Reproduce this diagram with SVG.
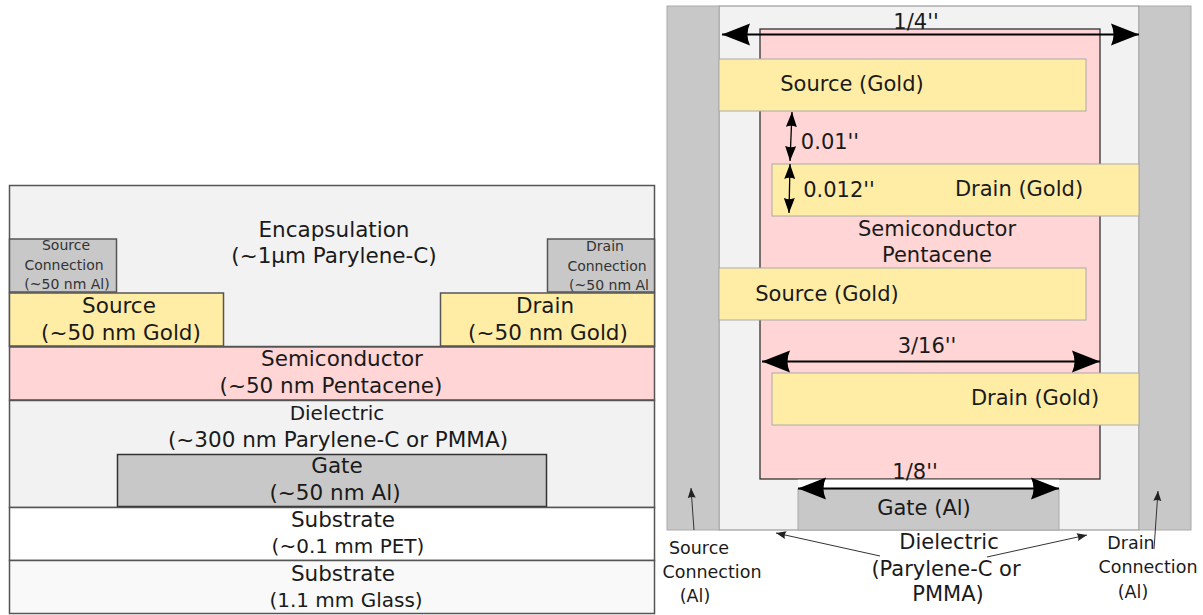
<svg xmlns="http://www.w3.org/2000/svg" width="1203" height="615" viewBox="0 0 1203 615">
<style>
text{font-family:"DejaVu Sans",Verdana,sans-serif;font-size:21.5px;fill:#1a1a1a;text-anchor:middle}
.r{font-size:21px}
.b{font-size:20px}
.s{font-size:14px;fill:#333}
.m{font-size:17.500px}
.l{stroke:#555;stroke-width:1.5}
.y{fill:#ffeda6}.g{fill:#c8c8c8}.p{fill:#ffd5d5}.e{fill:#f2f2f2}
.n{stroke:#aaa;stroke-width:1}
.k{stroke:#000;fill:none}
</style>
<defs>
<marker id="big" markerUnits="userSpaceOnUse" markerWidth="30" markerHeight="24" refX="28" refY="11" orient="auto-start-reverse" viewBox="0 0 30 22"><path d="M28 11L0 0Q5 11 0 22Z" fill="#000"/></marker>
<marker id="small" markerUnits="userSpaceOnUse" markerWidth="16" markerHeight="11" refX="15" refY="5.500" orient="auto-start-reverse" viewBox="0 0 16 11"><path d="M15 5.500L0 0Q2.500 5.500 0 11Z" fill="#000"/></marker>
<marker id="thin" markerUnits="userSpaceOnUse" markerWidth="11" markerHeight="10" refX="10" refY="4" orient="auto" viewBox="0 0 11 8"><path d="M10 4L0 0Q2 4 0 8Z" fill="#222"/></marker>
</defs>
<rect width="1203" height="615" fill="#fff"/>
<g id="encapsulation"><rect class="e l" x="9.500" y="185.500" width="645" height="161"/><text x="334" y="237">Encapsulation</text><text x="334" y="263">(~1µm Parylene-C)</text></g>
<g id="source-connection"><rect class="g l" x="9.500" y="239" width="107" height="53"/><text class="s" x="66" y="250">Source</text><text class="s" x="64" y="270">Connection</text><text class="s" x="67" y="289">(~50 nm Al)</text></g>
<g id="drain-connection"><rect class="g l" x="547.500" y="239" width="107" height="53"/><text class="s" x="605" y="251">Drain</text><text class="s" x="607" y="271">Connection</text><text class="s" x="609" y="290">(~50 nm Al</text></g>
<g id="source"><rect class="y l" x="9.500" y="293" width="214" height="53"/><text x="119" y="313">Source</text><text x="121" y="340">(~50 nm Gold)</text></g>
<g id="drain"><rect class="y l" x="440.500" y="293" width="214" height="53"/><text x="545" y="313">Drain</text><text x="548" y="340">(~50 nm Gold)</text></g>
<g id="semiconductor"><rect class="p l" x="9.500" y="347" width="645" height="53"/><text x="342" y="366">Semiconductor</text><text x="331" y="393">(~50 nm Pentacene)</text></g>
<g id="dielectric"><rect class="e l" x="9.500" y="400.500" width="645" height="107"/><text class="b" x="337" y="420">Dielectric</text><text x="338" y="447">(~300 nm Parylene-C or PMMA)</text></g>
<g id="gate"><rect class="g" x="117.500" y="454.500" width="429" height="52" stroke="#333" stroke-width="1.500"/><text x="337" y="473">Gate</text><text x="335" y="500">(~50 nm Al)</text></g>
<g id="substrate-pet"><rect fill="#fff" class="l" x="9.500" y="507.500" width="645" height="53"/><text x="343" y="527">Substrate</text><text class="b" x="348" y="553">(~0.1 mm PET)</text></g>
<g id="substrate-glass"><rect fill="#f9f9f9" class="l" x="9.500" y="560.500" width="645" height="53"/><text x="343" y="581">Substrate</text><text class="b" x="346" y="607">(1.1 mm Glass)</text></g>

<g id="dielectric-top"><rect class="e" x="719" y="6" width="420" height="524" stroke="#888" stroke-width="1"/></g>
<g id="source-connection-top"><rect class="g n" x="667" y="6" width="52" height="524"/></g>
<g id="drain-connection-top"><rect class="g n" x="1139" y="6" width="52" height="524"/></g>
<g id="semiconductor-top"><rect class="p" x="760" y="29" width="340" height="450" stroke="#333" stroke-width="1.300"/><text class="r" x="937" y="236">Semiconductor</text><text class="r" x="937" y="262">Pentacene</text></g>
<g id="source-top-1"><rect class="y n" x="719" y="59" width="367" height="52"/><text class="r" x="852" y="91">Source (Gold)</text></g>
<g id="drain-top-1"><rect class="y n" x="772" y="164" width="367" height="52"/><text class="r" x="1019" y="196">Drain (Gold)</text></g>
<g id="source-top-2"><rect class="y n" x="719" y="268" width="367" height="52"/><text class="r" x="827" y="301">Source (Gold)</text></g>
<g id="drain-top-2"><rect class="y n" x="772" y="373" width="367" height="52"/><text class="r" x="1035" y="405">Drain (Gold)</text></g>
<g id="gate-top"><rect fill="#fff" x="798" y="479.700" width="261" height="10"/><rect class="g n" x="798" y="489" width="261" height="41"/><text class="r" x="924" y="515">Gate (Al)</text></g>

<g id="connectors">
<path class="k" stroke-width="2" d="M722 34.500H1139" marker-start="url(#big)" marker-end="url(#big)"/>
<path class="k" stroke-width="2" d="M762 361.500H1100" marker-start="url(#big)" marker-end="url(#big)"/>
<path class="k" stroke-width="2" d="M798 488.500H1059" marker-start="url(#big)" marker-end="url(#big)"/>
<path class="k" stroke-width="1.300" d="M790 161L792 112" marker-start="url(#small)" marker-end="url(#small)"/>
<path class="k" stroke-width="1.300" d="M789 213L790 164" marker-start="url(#small)" marker-end="url(#small)"/>
<path stroke="#333" fill="none" d="M694 530L691 488" marker-end="url(#thin)"/>
<path stroke="#333" fill="none" d="M1154 549L1158 491" marker-end="url(#thin)"/>
<path stroke="#333" fill="none" d="M880 556L776 533" marker-end="url(#thin)"/>
<path stroke="#333" fill="none" d="M987 557L1087 535" marker-end="url(#thin)"/>
</g>
<g id="labels">
<text class="r" x="916" y="29">1/4''</text>
<text class="r" x="830" y="149">0.01''</text>
<text class="r" x="839" y="197">0.012''</text>
<text class="r" x="927" y="353">3/16''</text>
<text class="r" x="915" y="479">1/8''</text>
<text class="m" x="699" y="554">Source</text>
<text class="m" x="712" y="578">Connection</text>
<text class="m" x="695" y="602">(Al)</text>
<text class="m" x="1131" y="549">Drain</text>
<text class="m" x="1148" y="573">Connection</text>
<text class="m" x="1133" y="598">(Al)</text>
<text class="r" x="949" y="549">Dielectric</text>
<text class="r" x="946" y="576">(Parylene-C or</text>
<text class="r" x="948" y="601">PMMA)</text>
</g>
</svg>
